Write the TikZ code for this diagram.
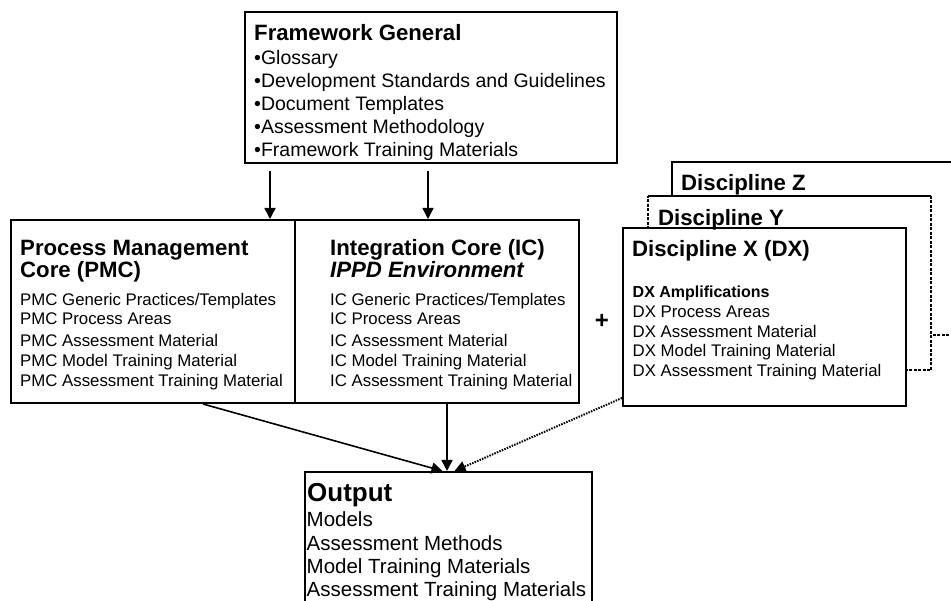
\documentclass[tikz,border=0pt]{standalone}
\usepackage{fontspec}
\setmainfont{Liberation Sans}
\usetikzlibrary{arrows.meta}
\tikzset{
  boxst/.style={draw, line width=2pt, fill=white, inner sep=0pt},
  plainbox/.style={fill=white, inner sep=0pt},
  txt/.style={anchor=base west, inner sep=0pt, align=left},
  ttl/.style={txt, font=\bfseries\fontsize{22.2}{21.6}\selectfont},
  itm/.style={txt, font=\fontsize{16.8}{20}\selectfont},
  arr/.style={line width=1.6pt, -{Triangle[length=11pt,width=11pt]}},
  dotarr/.style={line width=2pt, dash pattern=on 1.5pt off 1.2pt, -{Triangle[length=11pt,width=11pt]}},
  dsh/.style={line width=2pt, dash pattern=on 3pt off 1.5pt},
  sol/.style={line width=2pt}
}
\begin{document}
\begin{tikzpicture}[x=1pt,y=-1pt]
\useasboundingbox (0,0) rectangle (951,601);
\clip (0,0) rectangle (951,601);
\fill[white] (0,0) rectangle (951,601);

% boxes
\node[boxst, minimum width=372pt, minimum height=151pt] (fw) at (431,87.5) {};
\node[boxst, minimum width=284pt, minimum height=183pt] (pmc) at (153,311.5) {};
\node[boxst, minimum width=284pt, minimum height=183pt] (ic) at (437,311.5) {};

\node[plainbox, minimum width=328pt, minimum height=173pt] (dz) at (836,248.5) {};
\draw[sol] (dz.south west) -- (dz.north west) -- (dz.north east);
\draw[dsh] (dz.south west) -- (dz.south east);

\node[plainbox, minimum width=283pt, minimum height=174pt] (dy) at (789.5,283) {};
\draw[sol] (dy.north west) -- (dy.north east);
\draw[dsh] (dy.north east) -- (dy.south east) -- (dy.south west) -- (dy.north west);

\node[boxst, minimum width=283pt, minimum height=178pt] (dx) at (764.5,317) {};
\node[boxst, minimum width=287pt, minimum height=148pt] (out) at (448.5,546) {};

% texts (multi-line nodes: base anchor = last line)
\node[ttl] (fwt) at (254,40.7) {Framework General};
\node[txt, font=\fontsize{19.5}{23.1}\selectfont] (fwb) at (254,156.7)
  {•Glossary\\•Development Standards and Guidelines\\•Document Templates\\•Assessment Methodology\\•Framework Training Materials};

\node[ttl] (pmct) at (20,277.3) {Process Management\\Core (PMC)};
\node[itm] (pmcb) at (20,386.7)
  {PMC Generic Practices/Templates\\[-1.7pt]PMC Process Areas\\[2.4pt]PMC Assessment Material\\PMC Model Training Material\\PMC Assessment Training Material};

\node[ttl] (ict) at (330,277.3) {Integration Core (IC)\\\textit{IPPD Environment}};
\node[itm] (icb) at (330,386.7)
  {IC Generic Practices/Templates\\[-1.7pt]IC Process Areas\\[2.4pt]IC Assessment Material\\IC Model Training Material\\IC Assessment Training Material};

\node[ttl] (dzt) at (681,190.7) {Discipline Z};
\node[ttl] (dyt) at (658,226) {Discipline Y};
\node[ttl] (dxt) at (632,256.7) {Discipline X (DX)};
\node[txt, font=\fontsize{16.8}{19.75}\selectfont] (dxb) at (632.5,376.7)
  {\textbf{\fontsize{16}{19.75}\selectfont DX Amplifications}\\DX Process Areas\\DX Assessment Material\\DX Model Training Material\\DX Assessment Training Material};

\node[anchor=base, inner sep=0pt, font=\bfseries\fontsize{24}{26}\selectfont] (plus) at (602,328.5) {+};

\node[txt, font=\bfseries\fontsize{26}{28}\selectfont] (outt) at (307,501.7) {Output};
\node[txt, font=\fontsize{20.5}{23.3}\selectfont] (outb) at (306.5,596.6)
  {Models\\Assessment Methods\\Model Training Materials\\Assessment Training Materials};

% connectors
\draw[arr] ([xshift=26pt,yshift=-7pt]fw.south west) -- ([xshift=26pt]fw.south west |- pmc.north);
\draw[arr] ([xshift=184pt,yshift=-7pt]fw.south west) -- ([xshift=184pt]fw.south west |- ic.north);
\draw[arr] ([xshift=193pt]pmc.south west) -- ([xshift=-6pt]out.north);
\draw[arr] ([xshift=10pt]ic.south) -- ([xshift=10pt]ic.south |- out.north);
\draw[dotarr] ([yshift=9pt]dx.south west) -- ([xshift=6pt]out.north);
\end{tikzpicture}
\end{document}
